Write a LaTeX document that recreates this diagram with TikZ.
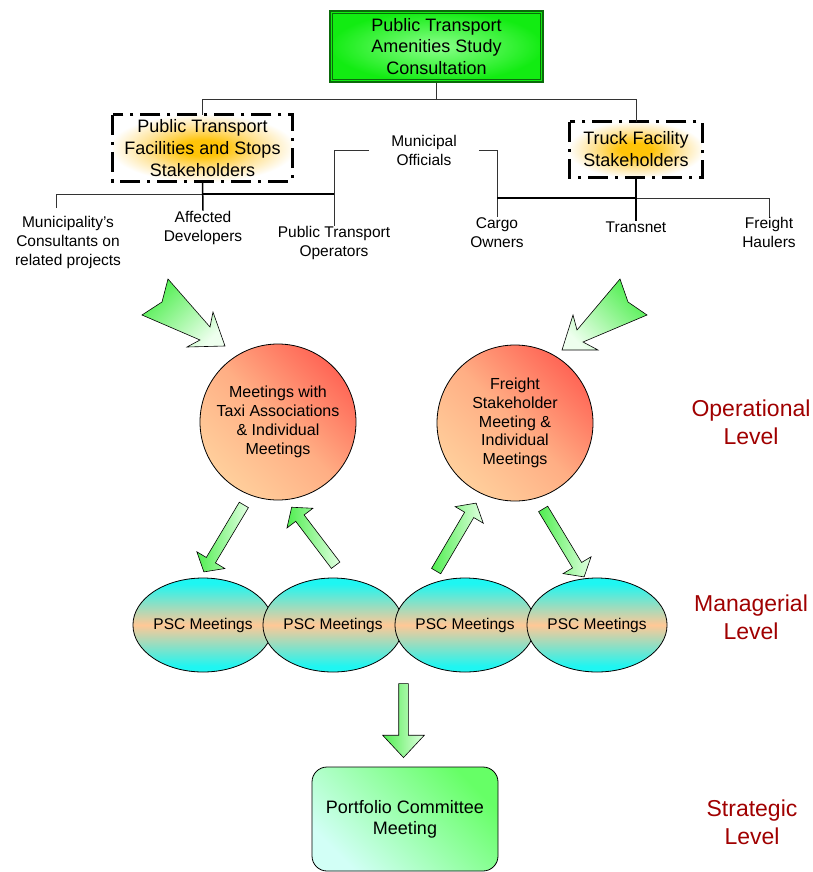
\documentclass[tikz,border=0pt]{standalone}
\usepackage{fontspec}
\setmainfont{Liberation Sans}
\usetikzlibrary{shapes.geometric,shapes.arrows,calc}
\definecolor{darkgreen}{HTML}{0A6A0A}
\definecolor{topin}{HTML}{8CFF8C}
\definecolor{topout}{HTML}{12EC12}
\definecolor{glowc}{HTML}{FFC408}
\definecolor{glowmid}{HTML}{FFE294}
\definecolor{circred}{HTML}{FF6656}
\definecolor{circmid}{HTML}{FFAE84}
\definecolor{circpeach}{HTML}{FFCF9C}
\definecolor{pcyan}{HTML}{1EF6F2}
\definecolor{ppeach}{HTML}{FFC896}
\definecolor{biggreen}{HTML}{4EEE4E}
\definecolor{biglight}{HTML}{EEFFEE}
\definecolor{sgreen}{HTML}{50EE50}
\definecolor{slight}{HTML}{E2FFE2}
\definecolor{pfgreen}{HTML}{66FF66}
\definecolor{pflight}{HTML}{D2FFF6}
\definecolor{lvlred}{HTML}{A00000}
\definecolor{linegray}{HTML}{333333}
\pgfdeclareradialshading{stakeglow}{\pgfpoint{0bp}{0bp}}{color(0bp)=(glowc); color(6bp)=(glowc); color(16bp)=(glowmid); color(26bp)=(white); color(50bp)=(white)}
\pgfdeclareradialshading{topglow}{\pgfpoint{0bp}{0bp}}{color(0bp)=(topin); color(25bp)=(topout); color(50bp)=(topout)}
\pgfdeclareverticalshading{pscshade}{100bp}{color(0bp)=(pcyan); color(28bp)=(pcyan); color(50bp)=(ppeach); color(72bp)=(pcyan); color(100bp)=(pcyan)}
\begin{document}
\begin{tikzpicture}[x=1pt,y=1pt,
  topbox/.style={rectangle, draw=darkgreen, line width=1.2pt, minimum width=213pt, minimum height=71pt,
    inner sep=0pt, shade, shading=topglow, align=center, font=\fontsize{18}{21.5}\selectfont},
  stake/.style={rectangle, inner sep=0pt, shade, shading=stakeglow, align=center, font=\fontsize{18}{22}\selectfont},
  stakeborder/.style={draw=black, line width=3pt, dash pattern=on 20pt off 7pt on 3pt off 7pt},
  lbl/.style={align=center, inner sep=0pt, font=\fontsize{15.5}{19}\selectfont},
  conn/.style={draw=linegray, line width=1pt},
  thickconn/.style={draw=black, line width=1.5pt},
  circ/.style={circle, draw=black, line width=0.8pt, minimum size=156pt, inner sep=0pt, align=center,
    font=\fontsize{16}{18.8}\selectfont, top color=circred, bottom color=circpeach, middle color=circmid, shading angle=-45},
  psc/.style={ellipse, draw=black, line width=0.8pt, minimum width=137pt, minimum height=94pt, inner sep=0pt,
    shade, shading=pscshade, font=\fontsize{15.5}{18}\selectfont},
  pbox/.style={rectangle, rounded corners=15pt, draw=black, line width=0.8pt, minimum width=186pt, minimum height=104pt,
    inner sep=0pt, align=center, top color=pfgreen, bottom color=pflight, shading angle=-45,
    font=\fontsize{18}{21}\selectfont},
  lvl/.style={text=lvlred, align=center, inner sep=0pt, font=\fontsize{23}{28}\selectfont},
  bigarrow/.style={draw=black, line width=0.6pt, top color=biggreen, bottom color=biglight},
  sarrow/.style={single arrow, draw=black, line width=0.6pt, inner sep=0pt, inner ysep=5pt,
    single arrow head extend=11pt, single arrow tip angle=100, left color=sgreen, right color=slight,
    sloped, allow upside down, anchor=center}
]
\useasboundingbox (0,0) rectangle (813,-872);

% top
\node[topbox] (top) at (436.5,-46.5) {Public Transport\\Amenities Study\\Consultation};
\draw[darkgreen, line width=0.8pt] ([shift={(3pt,-3pt)}]top.north west) rectangle ([shift={(-3pt,3pt)}]top.south east);

% stakeholder boxes
\node[stake, minimum width=179pt, minimum height=66pt] (ptfs) at (202.5,-148) {Public Transport\\Facilities and Stops\\Stakeholders};
\node[stake, minimum width=132pt, minimum height=55pt] (truck) at (636,-149.5) {Truck Facility\\Stakeholders};
\draw[stakeborder] (ptfs.north west) rectangle (ptfs.south east);
\draw[stakeborder] (truck.north west) rectangle (truck.south east);

\coordinate (j1) at (436.5,-100);
\draw[conn] (top.south) -- (j1);
\draw[conn] (ptfs.north) -- (ptfs.north |- j1) -- (truck.north |- j1) -- (truck.north);

% municipal officials & stakeholders
\node[lbl, inner xsep=22pt] (muni) at (424,-150.5) {Municipal\\Officials};
\node[lbl] (mcons) at (68,-242.5) {Municipality's\\Consultants on\\related projects};
\node[lbl] (affdev) at (203,-227.5) {Affected\\Developers};
\node[lbl] (ptops) at (334,-242.5) {Public Transport\\Operators};
\node[lbl] (cargo) at (497,-232.5) {Cargo\\Owners};
\node[lbl] (transnet) at (636,-227) {Transnet};
\node[lbl] (freight) at (769,-232.5) {Freight\\Haulers};

\coordinate (mconsTop) at (56,-208);
\coordinate (lb) at (0,-194);
\coordinate (rb) at (0,-198);
\draw[conn] (mconsTop) -- (mconsTop |- lb) -- (affdev.north |- lb);
\draw[thickconn] (affdev.north |- lb) -- (ptops.north |- lb);
\draw[thickconn] (ptfs.south) -- (affdev.north);
\draw[conn] (muni.west) -| (ptops.north);
\draw[conn] (muni.east) -| (cargo.north);
\draw[thickconn] (cargo.north |- rb) -- (transnet.north |- rb);
\draw[conn] (transnet.north |- rb) -- (freight.north |- rb) -- (freight.north);
\draw[thickconn] (truck.south) -- (transnet.north);

% big arrows
\shadedraw[bigarrow, shading angle=45] (168,-279) -- (210,-327) -- (213,-312) -- (225,-346) -- (187,-347) -- (200,-340) -- (142,-315) -- (162,-302) -- cycle;
\shadedraw[bigarrow, shading angle=-45] (620,-279) -- (577,-330) -- (573,-315) -- (562,-350) -- (598,-350) -- (583,-342) -- (647,-315) -- (628,-302) -- cycle;

% operational circles
\node[circ] (circ1) at (278,-422) {Meetings with\\Taxi Associations\\\& Individual\\Meetings};
\node[circ] (circ2) at (515,-423) {Freight\\Stakeholder\\Meeting \&\\Individual\\Meetings};

% PSC meetings
\node[psc] (psc1) at (203,-625) {PSC Meetings};
\node[psc] (psc2) at (333,-625) {PSC Meetings};
\node[psc] (psc3) at (465,-625) {PSC Meetings};
\node[psc] (psc4) at (597,-625) {PSC Meetings};

% small arrows
\coordinate (a1t) at (245,-503); \coordinate (a1h) at (205,-570);
\coordinate (a2t) at (337,-567); \coordinate (a2h) at (293,-509);
\coordinate (a3t) at (435,-573); \coordinate (a3h) at (475,-505);
\coordinate (a4t) at (542,-507); \coordinate (a4h) at (583,-575);
\coordinate (a5t) at (403.5,-681); \coordinate (a5h) at (403.5,-755);
\foreach \t/\h in {a1t/a1h, a2t/a2h, a3t/a3h, a4t/a4h}{
  \path let \p1=($(\h)-(\t)$), \n1={veclen(\x1,\y1)} in (\t) -- (\h) node[midway, sarrow, minimum height=\n1] {};
}
\path let \p1=($(a5h)-(a5t)$), \n1={veclen(\x1,\y1)} in (a5t) -- (a5h)
  node[midway, sarrow, inner ysep=4.5pt, single arrow head extend=16pt, single arrow tip angle=86, minimum height=\n1] {};

% portfolio
\node[pbox] (portfolio) at (405,-819) {Portfolio Committee\\Meeting};

% levels
\node[lvl] (oplevel) at (751,-422) {Operational\\Level};
\node[lvl] (mglevel) at (751,-617.5) {Managerial\\Level};
\node[lvl] (stlevel) at (752,-822) {Strategic\\Level};
\end{tikzpicture}
\end{document}
